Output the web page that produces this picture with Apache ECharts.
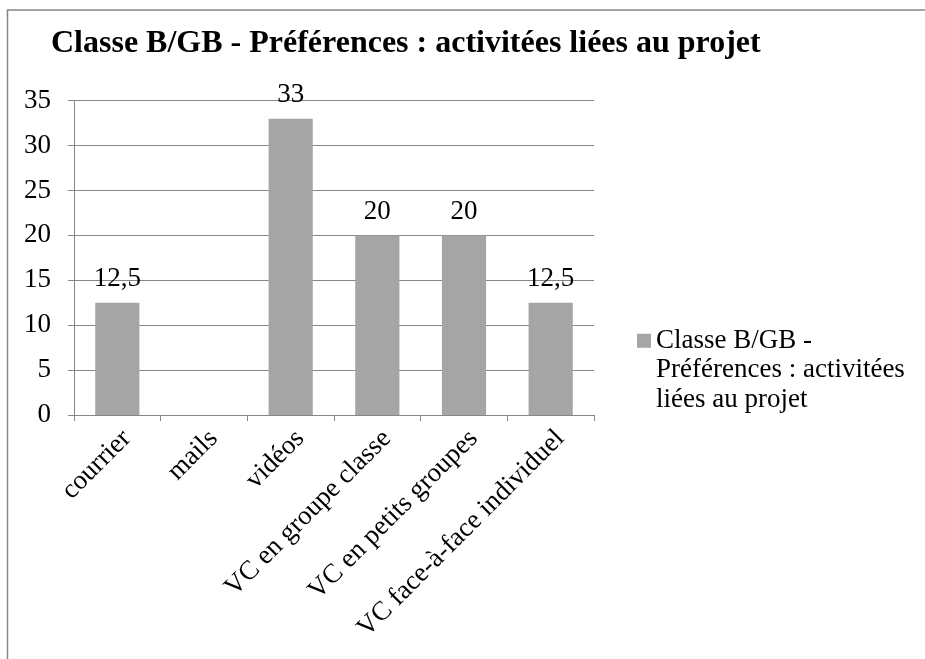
<!DOCTYPE html>
<html>
<head>
<meta charset="utf-8">
<script src="https://cdn.jsdelivr.net/npm/echarts@6/dist/echarts.min.js"></script>
<style>
  html, body { margin: 0; padding: 0; background: #fff; }
  #chart { width: 925px; height: 659px; }
</style>
</head>
<body>
<div id="chart"></div>
<script>
// Activity preferences of class B/GB
const titleText = 'Classe B/GB - Préférences : activitées liées au projet';
const seriesName = 'Classe B/GB - Préférences : activitées liées au projet';
const legendLines = ['Classe B/GB -', 'Préférences : activitées', 'liées au projet'];
const categories = ['courrier', 'mails', 'vidéos', 'VC en groupe classe', 'VC en petits groupes', 'VC face-à-face individuel'];
const values = [12.5, null, 33, 20, 20, 12.5];
const yTicks = { min: 0, max: 35, interval: 5 };

const serif = '"Liberation Serif", "Times New Roman", serif';
const gray = '#868686';

const chart = echarts.init(document.getElementById('chart'), null, { renderer: 'canvas' });

chart.setOption({
  backgroundColor: '#fff',
  animation: false,
  title: {
    text: titleText,
    left: 46,
    top: 23,
    textStyle: { fontFamily: serif, fontWeight: 'bold', fontSize: 32, color: '#000' }
  },
  graphic: [{
    type: 'rect',
    shape: { x: 7.5, y: 10, width: 940, height: 700 },
    style: { fill: null, stroke: gray, lineWidth: 1.5 },
    silent: true
  }],
  legend: {
    left: 632,
    top: 262,
    orient: 'vertical',
    icon: 'rect',
    itemWidth: 14,
    itemHeight: 14,
    itemGap: 4,
    // two blank lines on top keep the swatch level with the first text line
    formatter: () => '\n\n' + legendLines.join('\n'),
    textStyle: { fontFamily: serif, fontSize: 27, color: '#000', lineHeight: 29.5 }
  },
  grid: { left: 74, right: 331, top: 100.7, bottom: 244 },
  xAxis: {
    type: 'category',
    data: categories,
    axisLine: { lineStyle: { color: gray, width: 1 } },
    axisTick: { show: true, length: 6, lineStyle: { color: gray } },
    axisLabel: {
      rotate: 45, interval: 0, margin: 10, verticalAlign: 'top',
      fontFamily: serif, fontSize: 27, color: '#000'
    }
  },
  yAxis: {
    type: 'value',
    min: yTicks.min, max: yTicks.max, interval: yTicks.interval,
    axisLine: { show: true, lineStyle: { color: gray, width: 1 } },
    axisTick: { show: true, length: 6, lineStyle: { color: gray } },
    splitLine: { lineStyle: { color: gray, width: 1 } },
    axisLabel: { margin: 23, fontFamily: serif, fontSize: 27, color: '#000' }
  },
  series: [{
    name: seriesName,
    type: 'bar',
    data: values,
    barWidth: '51%',
    itemStyle: { color: '#a5a5a5' },
    label: {
      show: true,
      position: 'top',
      distance: 10,
      fontFamily: serif, fontSize: 27, color: '#000',
      formatter: p => String(p.value).replace('.', ',')
    }
  }]
});
</script>
</body>
</html>
